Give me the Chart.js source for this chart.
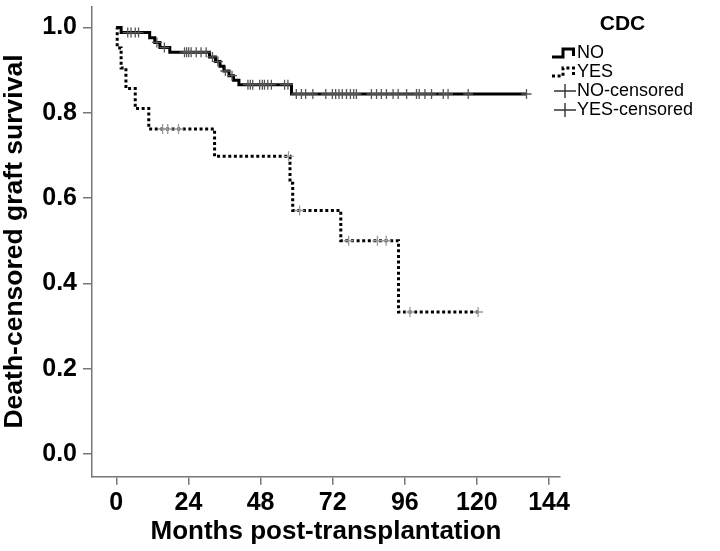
<!DOCTYPE html>
<html><head><meta charset="utf-8">
<script src="https://cdn.jsdelivr.net/npm/chart.js@4"></script>
<style>
html,body{margin:0;padding:0;background:#fff;overflow:hidden}
#wrap{width:720px;height:551px;position:relative}
canvas{display:block}
</style></head><body>
<div id="wrap"><canvas id="c" width="720" height="551" style="width:720px;height:551px"></canvas></div>
<script>
// ---- data ----
const xTicks = [0, 24, 48, 72, 96, 120, 144];
const yTicks = [0.0, 0.2, 0.4, 0.6, 0.8, 1.0];
const noEventMonths = [0, 1.6, 11.1, 12.8, 14.5, 17.8, 31.0, 33.0, 34.5, 35.8, 37.5, 39.0, 40.8, 58.3, 136.5];
const noSurvival    = [1.0, 0.988, 0.976, 0.965, 0.953, 0.942, 0.931, 0.920, 0.909, 0.898, 0.887, 0.876, 0.866, 0.844, 0.844];
const yesEventMonths = [0, 0.3, 1.6, 3.2, 6.3, 10.8, 32.7, 57.8, 58.7, 74.7, 93.9, 120.4];
const yesSurvival    = [1.0, 0.952, 0.905, 0.857, 0.810, 0.762, 0.698, 0.635, 0.571, 0.500, 0.333, 0.333];
const noCensoredMonths = [3.8, 4.9, 6.3, 7.4, 13.5, 16.0, 22.7, 23.4, 24.1, 24.9, 26.6, 28.2, 29.9, 32.0, 33.8, 36.3, 38.5,
  43.8, 44.6, 45.4, 47.7, 48.6, 49.3, 50.4, 51.6, 56.0, 57.1, 59.9, 61.6, 63.0, 65.4, 69.7, 71.9, 73.0, 74.1, 75.2, 76.6,
  77.9, 79.0, 79.9, 84.9, 86.6, 88.2, 89.9, 92.1, 93.8, 96.6, 99.9, 100.8, 102.7, 104.9, 108.8, 110.4, 117.1, 136.5];
const yesCensoredMonths = [15.4, 17.1, 20.7, 57.3, 61.0, 77.3, 86.9, 89.8, 97.7, 120.4];
const legendTitle = 'CDC';
const legendLabels = ['NO', 'YES', 'NO-censored', 'YES-censored'];
const xTitle = 'Months post-transplantation';
const yTitle = 'Death-censored graft survival';

// ---- helpers ----
function survAt(times, surv, t) {
  let v = surv[0];
  for (let i = 0; i < times.length; i++) { if (times[i] <= t) v = surv[i]; }
  return v;
}
const pts = (times, surv) => times.map((t, i) => ({x: t, y: surv[i]}));
const cens = (ct, times, surv) => ct.map(t => ({x: t, y: survAt(times, surv, t)}));

const FONT = '"Liberation Sans", Arial, Helvetica, sans-serif';
Chart.defaults.font.family = FONT;
Chart.defaults.color = '#000';

const legendPlugin = {
  id: 'kmLegend',
  afterDraw(chart) {
    const ctx = chart.ctx;
    ctx.save();
    ctx.fillStyle = '#000';
    ctx.textBaseline = 'alphabetic';
    ctx.textAlign = 'center';
    ctx.font = 'bold 21px ' + FONT;
    ctx.fillText(legendTitle, 622.5, 30);
    ctx.textAlign = 'left';
    ctx.textBaseline = 'middle';
    ctx.font = '18px ' + FONT;
    const rows = [53, 72, 91, 110];
    const x0 = 552, tx = 577;
    // NO icon (solid step)
    let yc = rows[0];
    ctx.strokeStyle = '#000'; ctx.lineWidth = 3; ctx.setLineDash([]);
    ctx.beginPath(); ctx.moveTo(x0, yc + 4); ctx.lineTo(563, yc + 4); ctx.lineTo(563, yc - 4); ctx.lineTo(573.5, yc - 4); ctx.lineTo(573.5, yc + 3); ctx.stroke();
    // YES icon (dotted step)
    yc = rows[1];
    ctx.setLineDash([3, 2.6]);
    ctx.beginPath(); ctx.moveTo(x0, yc + 4); ctx.lineTo(563, yc + 4); ctx.lineTo(563, yc - 4); ctx.lineTo(573.5, yc - 4); ctx.lineTo(573.5, yc + 3); ctx.stroke();
    ctx.setLineDash([]);
    // cross icons
    ctx.lineWidth = 1.4; ctx.strokeStyle = '#333';
    [rows[2], rows[3]].forEach(y => {
      ctx.beginPath(); ctx.moveTo(x0 + 2, y); ctx.lineTo(576, y); ctx.moveTo(565, y - 7); ctx.lineTo(565, y + 7); ctx.stroke();
    });
    legendLabels.forEach((l, i) => ctx.fillText(l, tx, rows[i]));
    ctx.restore();
  }
};

new Chart(document.getElementById('c'), {
  type: 'scatter',
  data: {
    datasets: [
      { label: 'NO-censored', data: cens(noCensoredMonths, noEventMonths, noSurvival), showLine: false,
        pointStyle: 'cross', pointRadius: 5, pointBorderColor: '#555', pointBorderWidth: 1.3, borderColor: '#555' },
      { label: 'YES-censored', data: cens(yesCensoredMonths, yesEventMonths, yesSurvival), showLine: false,
        pointStyle: 'cross', pointRadius: 5, pointBorderColor: '#9a9a9a', pointBorderWidth: 1.3, borderColor: '#9a9a9a' },
      { label: 'NO', data: pts(noEventMonths, noSurvival), showLine: true, stepped: 'before',
        borderColor: '#000', borderWidth: 3, pointRadius: 0, fill: false },
      { label: 'YES', data: pts(yesEventMonths, yesSurvival), showLine: true, stepped: 'before',
        borderColor: '#000', borderWidth: 3, borderDash: [3, 2.6], borderCapStyle: 'butt', pointRadius: 0, fill: false }
    ]
  },
  options: {
    responsive: false,
    devicePixelRatio: 1,
    animation: false,
    events: [],
    layout: { padding: { top: 2.7, right: 160, left: 0, bottom: 0 } },
    plugins: { legend: { display: false }, tooltip: { enabled: false } },
    scales: {
      x: {
        type: 'linear', position: 'bottom', min: -8.09, max: 147.65,
        afterBuildTicks: s => { s.ticks = xTicks.map(v => ({value: v})); },
        afterFit: s => { s.height = 74.3; s.paddingLeft = 0; s.paddingRight = 0; },
        grid: { drawOnChartArea: false, drawTicks: true, tickLength: 8, color: '#777', lineWidth: 1.5 },
        border: { display: true, color: '#777', width: 1.5 },
        ticks: { font: { size: 25, weight: 'bold', lineHeight: 1 }, color: '#000', padding: 6, autoSkip: false, maxRotation: 0 },
        title: { display: true, text: xTitle, font: { size: 26, weight: 'bold', lineHeight: 1 }, color: '#000', padding: { top: 0, bottom: 6 } }
      },
      y: {
        type: 'linear', min: -0.053, max: 1.0496,
        afterBuildTicks: s => { s.ticks = yTicks.map(v => ({value: v})); },
        afterFit: s => { s.width = 92; s.paddingTop = 0; s.paddingBottom = 0; },
        grid: { drawOnChartArea: false, drawTicks: true, tickLength: 9, color: '#777', lineWidth: 1.5 },
        border: { display: true, color: '#777', width: 1.5 },
        ticks: { font: { size: 25, weight: 'bold' }, color: '#000', padding: 6, callback: v => Number(v).toFixed(1) },
        title: { display: true, text: yTitle, font: { size: 26.5, weight: 'bold', lineHeight: 1 }, color: '#000', padding: { top: 1.5, bottom: 0 } }
      }
    }
  },
  plugins: [legendPlugin]
});
</script>
</body></html>
